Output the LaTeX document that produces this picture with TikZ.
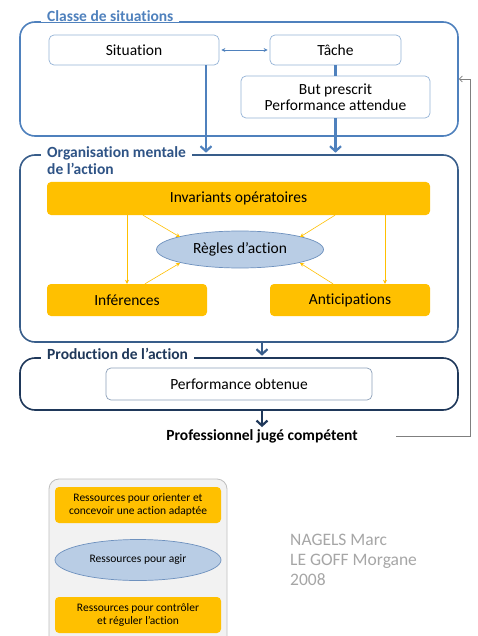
\documentclass[tikz,border=0pt]{standalone}
\usepackage{fontspec}
\setmainfont[Ligatures=NoCommon]{Carlito}
\usetikzlibrary{arrows.meta,shapes.geometric}
\definecolor{cblue}{RGB}{79,129,189}
\definecolor{cdark}{RGB}{56,93,138}
\definecolor{cdarkt}{RGB}{47,84,134}
\definecolor{cnavy}{RGB}{31,56,90}
\definecolor{cltblue}{RGB}{149,179,215}
\definecolor{cgreyb}{RGB}{140,160,185}
\definecolor{corange}{RGB}{255,192,0}
\definecolor{cell}{RGB}{185,205,229}
\definecolor{cellb}{RGB}{110,145,190}
\definecolor{lgrey}{RGB}{191,191,191}
\definecolor{lfill}{RGB}{242,242,242}
\definecolor{fbgrey}{RGB}{127,127,127}
\definecolor{txtgrey}{RGB}{166,166,166}
\begin{document}
\begin{tikzpicture}[x=1pt,y=-1pt,
  font=\fontsize{15.5}{17}\selectfont,
  frame/.style={draw, rounded corners=15pt, line width=1.6pt, inner sep=0pt},
  title/.style={fill=white, font=\fontsize{15.5}{17}\selectfont\bfseries, inner xsep=6pt, inner ysep=1pt, anchor=west, align=left},
  inbox/.style={draw=cltblue, fill=white, rounded corners=5pt, line width=0.7pt, inner sep=0pt, align=center},
  obox/.style={fill=corange, rounded corners=4pt, inner sep=0pt, align=center},
  ell/.style={ellipse, draw=cellb, fill=cell, line width=0.7pt, inner sep=0pt},
  bigarrow/.style={line width=2.4pt, -{Straight Barb[length=5pt,width=11pt,line width=2.2pt]}},
  oarrow/.style={draw=corange, line width=0.6pt, -{Stealth[length=4pt,width=4pt]}},
  small/.style={font=\fontsize{11.5}{13}\selectfont}
]
\clip (0,0) rectangle (478,636);
\fill[white] (0,0) rectangle (478,636);

% frames
\node[frame, draw=cblue, minimum width=438, minimum height=114] (f1) at (239,79) {};
\node[frame, draw=cdark, minimum width=438, minimum height=187] (f2) at (239,248.5) {};
\node[frame, draw=cnavy, minimum width=438, minimum height=52] (f3) at (239,384) {};

\node[title, text=cblue] (t1) at (41,16) {Classe de situations};
\node[title, text=cdarkt] (t2) at (41,160.5) {Organisation mentale\\de l’action};
\node[title, text=cnavy] (t3) at (41,354) {Production de l’action};

% box 1 content
\node[inbox, minimum width=170, minimum height=30] (sit) at (134,50) {Situation};
\node[inbox, minimum width=131, minimum height=30] (tache) at (335.5,50) {Tâche};
\node[inbox, minimum width=189, minimum height=42] (but) at (335.5,97) {But prescrit\\[-1pt]Performance attendue};
\draw[cblue, line width=0.7pt, {Stealth[length=4pt,width=4pt]}-{Stealth[length=4pt,width=4pt]}] ([xshift=2pt]sit.east) -- ([xshift=-2pt]tache.west);
\draw[cblue, line width=2.4pt] (tache.south) -- (but.north);
\draw[bigarrow, cblue] ([xshift=72pt]sit.south) -- ([xshift=72pt,yshift=1.5pt]sit.south |- f2.north);
\draw[bigarrow, cblue] (but.south) -- ([yshift=1.5pt]but.south |- f2.north);

% box 2 content
\node[obox, minimum width=383, minimum height=33] (inv) at (238.5,198.5) {Invariants opératoires};
\node[ell, minimum width=167, minimum height=37] (reg) at (240,249.5) {Règles d’action};
\node[obox, minimum width=160, minimum height=32] (inf) at (127,300) {Inférences};
\node[obox, minimum width=160, minimum height=32] (ant) at (350,300) {Anticipations};
\draw[oarrow] (inv.south -| inf.north) -- (inf.north);
\draw[oarrow] ([xshift=35pt]ant.north |- inv.south) -- ([xshift=35pt]ant.north);
\draw[oarrow] ([xshift=-95.5pt]inv.south) -- ([shift={(-60,-12.5)}]reg.center);
\draw[oarrow] ([xshift=96.5pt]inv.south) -- ([shift={(60,-12.5)}]reg.center);
\draw[oarrow] ([xshift=18pt]inf.north) -- ([shift={(-60,13.5)}]reg.center);
\draw[oarrow] ([xshift=-17pt]ant.north) -- ([shift={(60,13.5)}]reg.center);

\draw[bigarrow, cdark] ([xshift=23pt]f2.south) -- ([xshift=23pt,yshift=1.5pt]f3.north);

% box 3 content
\node[inbox, draw=cgreyb, minimum width=266, minimum height=32] (perf) at (239,384) {Performance obtenue};
\node[font=\fontsize{15.5}{17}\selectfont\bfseries, inner sep=1pt] (prof) at (262,436) {Professionnel jugé compétent};
\draw[bigarrow, cnavy] ([xshift=23pt]f3.south) -- ([yshift=1pt]prof.north);

% feedback
\coordinate (fb) at (396,436);
\draw[fbgrey, line width=0.7pt, -{Straight Barb[length=3pt,width=6pt]}] (fb) -| ([xshift=12pt]f1.east) -- (f1.east);

% legend
\node[draw=lgrey, fill=lfill, rounded corners=10pt, line width=0.8pt, minimum width=178, minimum height=175, inner sep=0pt] (leg) at (138,566.5) {};
\node[obox, small, minimum width=166, minimum height=36] (l1) at (138,505) {Ressources pour orienter et\\concevoir une action adaptée};
\node[ell, small, minimum width=166, minimum height=41] (l2) at (138,560) {Ressources pour agir};
\node[obox, small, minimum width=166, minimum height=36] (l3) at (138,615) {Ressources pour contrôler\\et réguler l’action};

\node[anchor=west, align=left, text=txtgrey, font=\fontsize{17.5}{20}\selectfont, inner sep=0pt] (auth) at (290,560) {NAGELS Marc\\LE GOFF Morgane\\2008};
\end{tikzpicture}
\end{document}
